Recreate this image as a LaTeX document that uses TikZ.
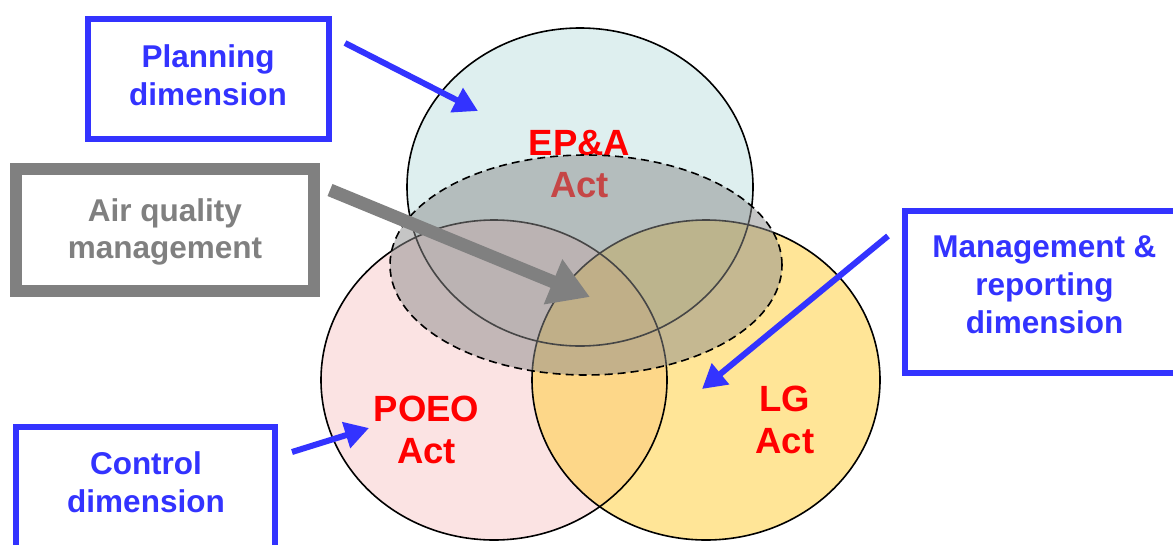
\documentclass[tikz,border=0pt]{standalone}
\usepackage{fontspec}
\setmainfont{Liberation Sans}
\usetikzlibrary{arrows.meta}
\definecolor{dimblue}{HTML}{3333FF}
\definecolor{dimgray}{HTML}{808080}
\definecolor{actred}{HTML}{FF0000}
\definecolor{cyanfill}{HTML}{BFE1E1}
\definecolor{pinkfill}{HTML}{F9C9C9}
\definecolor{yellowfill}{HTML}{FFCC30}
\definecolor{grayfill}{HTML}{8C8C8C}
\begin{document}
\begin{tikzpicture}[x=1pt,y=-1pt,
  bluebox/.style={draw=dimblue, line width=6pt, inner sep=0pt, rectangle},
  graybox/.style={draw=dimgray, line width=12pt, inner sep=0pt, rectangle},
  bluetext/.style={text=dimblue, font=\fontsize{31.5}{38}\selectfont\bfseries, align=center, inner sep=0pt, anchor=base},
  graytext/.style={text=dimgray, font=\fontsize{31.5}{37}\selectfont\bfseries, align=center, inner sep=0pt, anchor=base},
  redtext/.style={text=actred, font=\fontsize{36.5}{42}\selectfont\bfseries, align=center, inner sep=0pt, anchor=base},
  bluearrow/.style={draw=dimblue, line width=6pt, -{Triangle[length=24pt,width=26pt]}},
  grayarrow/.style={draw=dimgray, line width=13pt, -{Triangle[length=40pt,width=46pt]}},
  setfill/.style={fill opacity=0.5},
  setline/.style={draw=black, line width=1.6pt}
]
\useasboundingbox (0,0) rectangle (1173,544);
\clip (0,0) rectangle (1173,544);
\fill[white] (0,0) rectangle (1173,544);

% fills of the three sets
\path[setfill, fill=cyanfill] (580,187) ellipse [x radius=173pt, y radius=159pt];
\path[setfill, fill=pinkfill] (494,380) ellipse [x radius=173pt, y radius=160pt];
\path[setfill, fill=yellowfill] (706,380) ellipse [x radius=174pt, y radius=160pt];
% outlines
\draw[setline] (580,187) ellipse [x radius=173pt, y radius=159pt];
\draw[setline] (494,380) ellipse [x radius=173pt, y radius=160pt];
\draw[setline] (706,380) ellipse [x radius=174pt, y radius=160pt];

\node[redtext] (epa) at (579.5,197) {EP\&A\\Act};

% dashed air quality ellipse
\path[setfill, fill=grayfill] (586,265) ellipse [x radius=196pt, y radius=110pt];
\draw[setline, dash pattern=on 8pt off 5pt] (586,265) ellipse [x radius=196pt, y radius=110pt];

\node[redtext] (poeo) at (426.5,463) {POEO\\Act};
\node[redtext] (lg) at (785,453) {LG\\Act};

% boxes
\node[bluebox, minimum width=241pt, minimum height=120pt] (planbox) at (208.5,79) {};
\node[bluetext] (plantext) at (208,105) {Planning\\dimension};

\node[graybox, minimum width=298pt, minimum height=122pt] (airbox) at (165,230) {};
\node[graytext] (airtext) at (165,258) {Air quality\\management};

\node[bluebox, minimum width=275pt, minimum height=162pt] (mgmtbox) at (1042.5,292) {};
\node[bluetext] (mgmttext) at (1044.5,333) {Management \&\\reporting\\dimension};

\node[bluebox, minimum width=259pt, minimum height=140pt] (ctrlbox) at (145.5,497) {};
\node[bluetext] (ctrltext) at (146,512) {Control\\dimension};

% arrows
\coordinate (planfrom) at (345,43);
\coordinate (planto) at (478,111);
\coordinate (airfrom) at (330,190);
\coordinate (airto) at (590,297);
\coordinate (mgmtfrom) at (888,236);
\coordinate (mgmtto) at (702,389);
\coordinate (ctrlfrom) at (292,452);
\coordinate (ctrlto) at (369,428);
\draw[bluearrow] (planfrom) -- (planto);
\draw[grayarrow] (airfrom) -- (airto);
\draw[bluearrow] (mgmtfrom) -- (mgmtto);
\draw[bluearrow] (ctrlfrom) -- (ctrlto);
\end{tikzpicture}
\end{document}
